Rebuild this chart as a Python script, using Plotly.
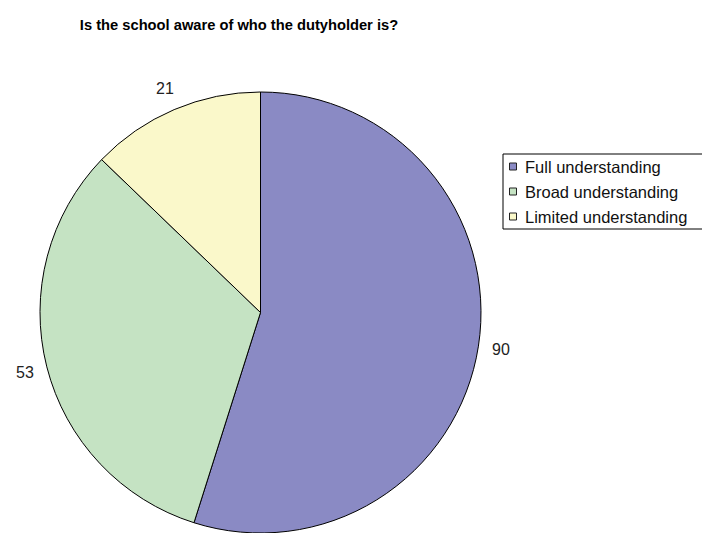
import math
import plotly.graph_objects as go

# Survey responses
categories = ["Full understanding", "Broad understanding", "Limited understanding"]
counts = [90, 53, 21]
colors = ["#8A8AC4", "#C5E3C3", "#FAF8CA"]

W, H = 702, 533
FONT = "Liberation Sans, Arial, Helvetica, sans-serif"

# Pie placement (pixels)
cx, cy, r = 260.5, 312.5, 220.5


def px(x):
    return x / W


def py(y):
    return 1 - y / H


fig = go.Figure(
    go.Pie(
        labels=categories,
        values=counts,
        sort=False,
        direction="clockwise",
        rotation=0,
        marker=dict(colors=colors, line=dict(color="#000000", width=1)),
        textinfo="none",
        domain=dict(x=[px(cx - r), px(cx + r)], y=[0.0, py(cy - r)]),
        hoverinfo="label+value",
        showlegend=False,
    )
)

# Value labels placed just outside each slice, at its mid-angle
total = sum(counts)
annotations = []
start = 0.0
for v in counts:
    mid = (start + v / 2) / total * 2 * math.pi
    start += v
    d = r + 23
    annotations.append(
        dict(
            x=px(cx + d * math.sin(mid)),
            y=py(cy - d * math.cos(mid)),
            xref="paper",
            yref="paper",
            text=str(v),
            showarrow=False,
            xanchor="center",
            yanchor="middle",
            font=dict(family=FONT, size=16, color="#222222"),
        )
    )

# Legend box with swatches
shapes = [
    dict(
        type="rect", xref="paper", yref="paper",
        x0=px(503), x1=px(712), y0=py(154), y1=py(229),
        line=dict(color="#000000", width=1), fillcolor="white", layer="above",
    )
]
row0, row_gap, sw = 166.5, 25, 7
for i, (name, col) in enumerate(zip(categories, colors)):
    yc = row0 + i * row_gap
    shapes.append(
        dict(
            type="rect", xref="paper", yref="paper",
            x0=px(509.5), x1=px(509.5 + sw), y0=py(yc - sw / 2), y1=py(yc + sw / 2),
            line=dict(color="#222222", width=1), fillcolor=col, layer="above",
        )
    )
    annotations.append(
        dict(
            x=px(523), y=py(yc), xref="paper", yref="paper",
            text=name, showarrow=False, xanchor="left", yanchor="middle",
            font=dict(family=FONT, size=16.5, color="#111111"),
        )
    )

fig.update_layout(
    width=W,
    height=H,
    margin=dict(l=0, r=0, t=0, b=0),
    paper_bgcolor="white",
    plot_bgcolor="white",
    title=dict(
        text="<b>Is the school aware of who the dutyholder is?</b>",
        x=px(239),
        xanchor="center",
        y=py(25),
        yanchor="middle",
        font=dict(family=FONT, size=14.7, color="#000000"),
    ),
    shapes=shapes,
    annotations=annotations,
    showlegend=False,
)

fig.write_html("out.html")
